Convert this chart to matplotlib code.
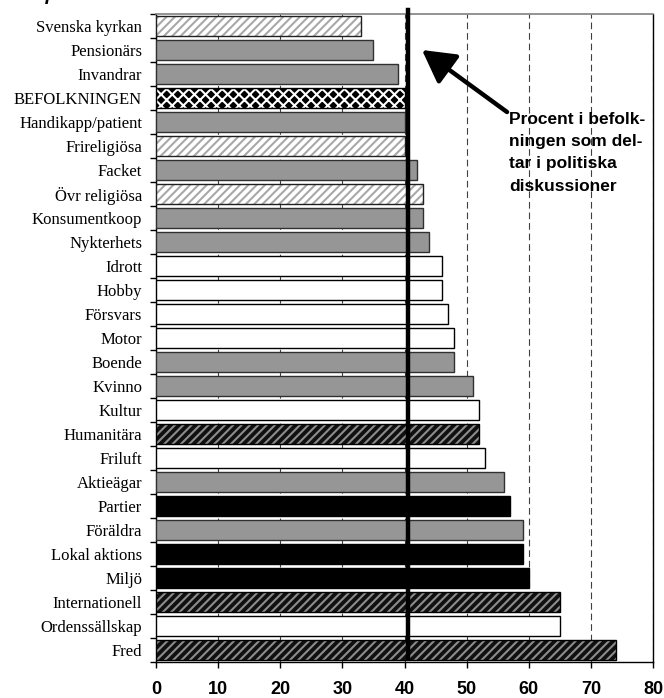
import matplotlib
matplotlib.use("Agg")
import matplotlib.pyplot as plt

categories = ["Svenska kyrkan", "Pensionärs", "Invandrar", "BEFOLKNINGEN",
              "Handikapp/patient", "Frireligiösa", "Facket", "Övr religiösa",
              "Konsumentkoop", "Nykterhets", "Idrott", "Hobby", "Försvars",
              "Motor", "Boende", "Kvinno", "Kultur", "Humanitära", "Friluft",
              "Aktieägar", "Partier", "Föräldra", "Lokal aktions", "Miljö",
              "Internationell", "Ordenssällskap", "Fred"]
values = [33, 35, 39, 40, 40, 40, 42, 43, 43, 44, 46, 46, 47, 48, 48, 51,
          52, 52, 53, 56, 57, 59, 59, 60, 65, 65, 74]
groups = ["light_hatch", "gray", "gray", "diamond", "gray", "light_hatch",
          "gray", "light_hatch", "gray", "gray", "white", "white", "white",
          "white", "gray", "gray", "white", "dark_hatch", "white", "gray",
          "black", "gray", "black", "black", "dark_hatch", "white", "dark_hatch"]
population_level = 40.6
x_ticks = [0, 10, 20, 30, 40, 50, 60, 70, 80]
annotation_text = "Procent i befolk-\nningen som del-\ntar i politiska\ndiskussioner"
title_text = "Deltar i politiska diskussioner"

styles = {
    "gray":        dict(face="#969696", hatch=None,    hcol=None,      edge="#303030"),
    "white":       dict(face="white",   hatch=None,    hcol=None,      edge="black"),
    "black":       dict(face="black",   hatch=None,    hcol=None,      edge="black"),
    "light_hatch": dict(face="white",   hatch="////",  hcol="#a8a8a8", edge="#202020"),
    "dark_hatch":  dict(face="#101010", hatch="////",  hcol="#8c8c8c", edge="black"),
    "diamond":     dict(face="black",   hatch="xxx",   hcol="white",   edge="black"),
}

plt.rcParams["hatch.linewidth"] = 1.5

W, H = 664, 698
fig = plt.figure(figsize=(W / 100, H / 100), dpi=100)
ax = fig.add_axes([156 / W, 1 - 662 / H, (653 - 156) / W, (662 - 14) / H])

pos = list(range(len(categories)))
bar_h = 0.83
for p, v, g in zip(pos, values, groups):
    s = styles[g]
    if s["hatch"]:
        ax.barh(p, v, height=bar_h, color=s["face"], edgecolor=s["hcol"],
                hatch=s["hatch"], linewidth=0, zorder=3)
        ax.barh(p, v, height=bar_h, facecolor="none", edgecolor=s["edge"],
                linewidth=1.0, zorder=4)
    else:
        ax.barh(p, v, height=bar_h, color=s["face"], edgecolor=s["edge"],
                linewidth=1.0, zorder=3)

ax.set_xlim(0, 80)
ax.set_ylim(len(categories) - 0.5, -0.5)

ax.set_yticks(pos)
ax.set_yticklabels(categories, family="Liberation Serif", fontsize=12)
ax.set_yticks([i - 0.5 for i in range(len(categories) + 1)], minor=True)
ax.tick_params(axis="y", which="major", length=0, pad=10)
ax.tick_params(axis="y", which="minor", length=4, width=1, direction="out")

ax.set_xticks(x_ticks)
ax.set_xticklabels([str(t) for t in x_ticks], family="Liberation Sans",
                   fontweight="bold", fontsize=13)
ax.tick_params(axis="x", length=4, width=1, direction="out", pad=10)

ax.grid(axis="x", color="#404040", linestyle=(0, (6, 3.5)), linewidth=0.8, zorder=1)
ax.set_axisbelow(True)

for side in ["left", "bottom", "right"]:
    ax.spines[side].set_color("black")
    ax.spines[side].set_linewidth(1.0)
ax.spines["top"].set_color("#808080")
ax.spines["top"].set_linewidth(1.2)

ax.axvline(population_level, ymin=0.006, ymax=1.006, color="black",
           linewidth=3.2, zorder=6, clip_on=False)

fig.text(509 / W, 1 - 112 / H, annotation_text, family="Liberation Sans",
         fontweight="bold", fontsize=12.5, va="top", ha="left", linespacing=1.6)

ax.annotate("", xy=(422 / W, 1 - 50 / H), xycoords="figure fraction",
            xytext=(507 / W, 1 - 112 / H), textcoords="figure fraction",
            arrowprops=dict(arrowstyle="-|>,head_length=0.9,head_width=0.5",
                            lw=3.2, color="black", mutation_scale=22,
                            shrinkA=0, shrinkB=0))

fig.text(250 / W, 1 - 0.5 / H, title_text, family="Liberation Sans",
         fontweight="bold", style="italic", fontsize=14, ha="right",
         va="baseline")

fig.savefig("out.png", dpi=100)
